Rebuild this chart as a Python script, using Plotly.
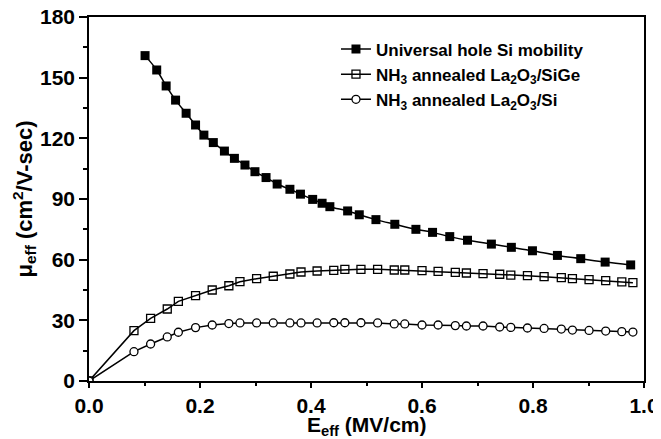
import plotly.graph_objects as go

# Universal hole Si mobility (filled squares)
univ_x = [0.101, 0.122, 0.139, 0.156, 0.175, 0.192, 0.207, 0.224, 0.244, 0.262,
          0.281, 0.299, 0.319, 0.339, 0.362, 0.381, 0.403, 0.420, 0.434, 0.466,
          0.487, 0.517, 0.551, 0.589, 0.619, 0.650, 0.682, 0.725, 0.761, 0.799,
          0.844, 0.886, 0.930, 0.976]
univ_y = [160.9, 153.8, 145.9, 138.9, 132.4, 126.6, 121.6, 117.9, 113.7, 110.1,
          106.8, 103.5, 100.6, 97.4, 94.8, 92.4, 89.8, 87.9, 86.2, 84.1,
          82.2, 79.8, 77.5, 75.0, 73.5, 71.4, 69.6, 67.7, 66.1, 64.4,
          62.1, 60.5, 58.8, 57.4]

# NH3 annealed La2O3 / SiGe and La2O3 / Si (shared field values)
ann_x = [0.0, 0.081, 0.111, 0.141, 0.161, 0.192, 0.222, 0.252, 0.272, 0.302,
         0.332, 0.362, 0.382, 0.411, 0.441, 0.461, 0.490, 0.520, 0.550, 0.569,
         0.600, 0.629, 0.660, 0.680, 0.710, 0.740, 0.760, 0.790, 0.820, 0.851,
         0.871, 0.901, 0.931, 0.960, 0.980]
sige_y = [0.0, 24.9, 31.0, 35.6, 39.4, 42.2, 45.0, 47.1, 49.1, 50.6,
          51.8, 52.9, 53.9, 54.4, 54.7, 55.2, 55.2, 55.2, 54.9, 54.9,
          54.6, 54.2, 53.7, 53.4, 53.1, 52.8, 52.4, 52.1, 51.6, 51.1,
          50.6, 50.1, 49.6, 49.0, 48.6]
si_y = [0.0, 14.5, 18.3, 21.8, 24.1, 26.4, 27.7, 28.4, 28.7, 28.7,
        28.7, 28.7, 28.7, 28.7, 28.8, 28.8, 28.8, 28.7, 28.2, 28.2,
        27.7, 27.7, 27.4, 27.2, 27.2, 26.7, 26.5, 26.2, 26.0, 25.7,
        25.2, 25.0, 24.7, 24.4, 24.2]

names = ["Universal hole Si mobility",
         "NH<sub>3</sub> annealed La<sub>2</sub>O<sub>3</sub>/SiGe",
         "NH<sub>3</sub> annealed La<sub>2</sub>O<sub>3</sub>/Si"]

x_ticks = [0.0, 0.2, 0.4, 0.6, 0.8, 1.0]
x_tick_labels = ["0.0", "0.2", "0.4", "0.6", "0.8", "1.0"]
y_ticks = [0, 30, 60, 90, 120, 150, 180]

x_title = "E<sub>eff</sub> (MV/cm)"
y_title = "μ<sub>eff</sub> (cm<sup>2</sup>/V-sec)"

FONT = "Liberation Sans, Arial, sans-serif"

fig = go.Figure()
fig.add_trace(go.Scatter(
    x=univ_x, y=univ_y, name=names[0], mode="lines+markers",
    line=dict(color="black", width=1.5, shape="spline"),
    marker=dict(symbol="square", size=9, color="black",
                line=dict(color="black", width=0))))
fig.add_trace(go.Scatter(
    x=ann_x, y=sige_y, name=names[1], mode="lines+markers",
    line=dict(color="black", width=1.5),
    marker=dict(symbol="square-open", size=8, color="black",
                line=dict(width=1.3))))
fig.add_trace(go.Scatter(
    x=ann_x, y=si_y, name=names[2], mode="lines+markers",
    line=dict(color="black", width=1.5),
    marker=dict(symbol="circle", size=8, color="white",
                line=dict(color="black", width=1.3))))

axis_common = dict(
    showline=True, linecolor="black", linewidth=1.5, mirror=True,
    ticks="outside", tickwidth=1.5, tickcolor="black",
    showgrid=False, zeroline=False, automargin=False,
    ticklabeloverflow="allow",
    tickfont=dict(family=FONT, size=21, color="black", weight="bold"),
)

fig.update_xaxes(
    range=[0, 1.0], tickvals=x_ticks, ticktext=x_tick_labels, ticklen=5,
    minor=dict(dtick=0.1, ticks="outside", ticklen=3, tickwidth=1.5, tickcolor="black"),
    **axis_common)
fig.update_yaxes(
    range=[0, 180], tickvals=y_ticks, ticklen=8,
    minor=dict(dtick=15, ticks="outside", ticklen=4, tickwidth=1.5, tickcolor="black"),
    **axis_common)

fig.add_annotation(text=x_title, xref="paper", yref="paper", x=0.5, y=0,
                   xanchor="center", yanchor="top", yshift=-30,
                   showarrow=False,
                   font=dict(family=FONT, size=21, color="black", weight="bold"))
fig.add_annotation(text=y_title, xref="paper", yref="paper", x=0, y=0.5,
                   xanchor="right", yanchor="middle", xshift=-48, textangle=-90,
                   showarrow=False,
                   font=dict(family=FONT, size=22, color="black", weight="bold"))

# page body has an 8px margin, so the figure is offset by 8px in the window
fig.update_layout(
    width=653, height=431,
    margin=dict(l=81, r=17, t=9, b=58),
    paper_bgcolor="white", plot_bgcolor="white",
    showlegend=True,
    legend=dict(x=0.445, y=0.96, xanchor="left", yanchor="top",
                bgcolor="rgba(0,0,0,0)", tracegroupgap=0, itemwidth=30,
                font=dict(family=FONT, size=17, color="black", weight="bold")),
)

fig.write_html("out.html")
